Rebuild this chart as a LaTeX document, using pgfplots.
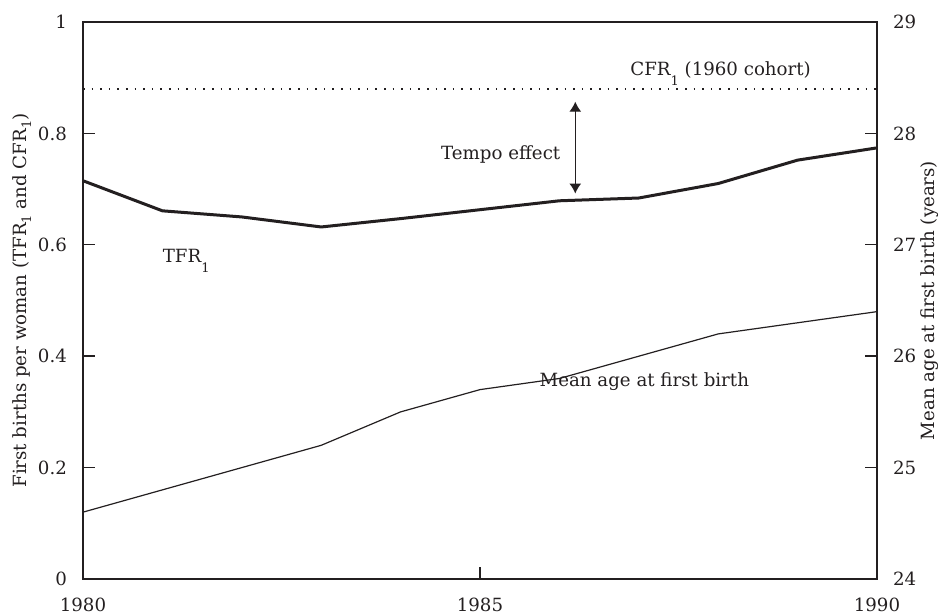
\documentclass[border=0pt]{standalone}
\usepackage{fontspec}
\setmainfont{DejaVu Serif}
\usepackage{pgfplots}
\pgfplotsset{compat=1.18}
\usetikzlibrary{arrows.meta}
\definecolor{ink}{HTML}{231F20}
\newcommand{\sub}[2][-0.45ex]{\raisebox{#1}{\fontsize{6.5}{7}\selectfont #2}}
\begin{document}
\begin{tikzpicture}[font=\fontsize{9.1}{11}\selectfont]
\path[use as bounding box] (-41.5pt,-18pt) rectangle (430.5pt,289.5pt);
\begin{axis}[
  at={(0pt,0pt)}, anchor=south west,
  scale only axis, width=397pt, height=278.5pt,
  xmin=1980, xmax=1990, ymin=0, ymax=1,
  /pgf/number format/assume math mode=true,
  xtick={1980,1985,1990}, ytick={0,0.2,0.4,0.6,0.8,1},
  yticklabels={0,0.2,0.4,0.6,0.8,1},
  xticklabel style={yshift=-6pt},
  xticklabels={1980,1985,1990},
  yticklabel style={xshift=-4.5pt},
  xtick pos=bottom, ytick pos=left,
  tick align=inside, major tick length=6pt,
  axis line style={ink, line width=0.9pt},
  tick style={ink, line width=0.7pt},
  every tick label/.append style={ink},
  ylabel={First births per woman (TFR\sub{1} and CFR\sub{1})},
  every axis y label/.style={at={(axis description cs:-0.0768,0.5)}, rotate=90, anchor=center, ink},
  clip=false,
]
\addplot[ink, line width=1.5pt] coordinates {
(1980,0.715) (1981,0.661) (1982,0.650) (1983,0.632) (1984,0.647) (1985,0.663)
(1986,0.679) (1987,0.684) (1988,0.710) (1989,0.752) (1990,0.774)};
\addplot[ink, line width=0.7pt, dash pattern=on 0.8pt off 3.5pt] coordinates {(1980,0.88) (1990,0.88)};
\addplot[ink, line width=0.6pt, {Latex[length=5pt,width=6pt]}-{Latex[length=5pt,width=6pt]}] coordinates {(1986.2,0.857) (1986.2,0.692)};
\node[ink, anchor=east] at (axis cs:1986.1,0.762) {Tempo effect};
\node[ink, anchor=base] at (axis cs:1981.3,0.568) {TFR\sub[-5pt]{1}};
\node[ink, anchor=base] at (axis cs:1988.03,0.904) {CFR\sub[-5pt]{1} (1960 cohort)};
\node[ink] at (axis cs:1987.07,0.355) {Mean age at first birth};
\end{axis}
\begin{axis}[
  at={(0pt,0pt)}, anchor=south west,
  scale only axis, width=397pt, height=278.5pt,
  xmin=1980, xmax=1990, ymin=24, ymax=29,
  /pgf/number format/assume math mode=true,
  axis x line=none, axis y line*=right,
  ytick={24,25,26,27,28,29},
  tick align=inside, major tick length=6pt,
  axis line style={ink, line width=0.9pt},
  tick style={ink, line width=0.7pt},
  every tick label/.append style={ink},
  yticklabel style={xshift=4.5pt},
  ylabel={Mean age at first birth (years)},
  every axis y label/.style={at={(axis description cs:1.0668,0.5)}, rotate=90, anchor=center, ink},
]
\addplot[ink, line width=0.6pt] coordinates {
(1980,24.6) (1981,24.8) (1982,25.0) (1983,25.2) (1984,25.5) (1985,25.7)
(1986,25.8) (1987,26.0) (1988,26.2) (1989,26.3) (1990,26.4)};
\end{axis}
\end{tikzpicture}
\end{document}
